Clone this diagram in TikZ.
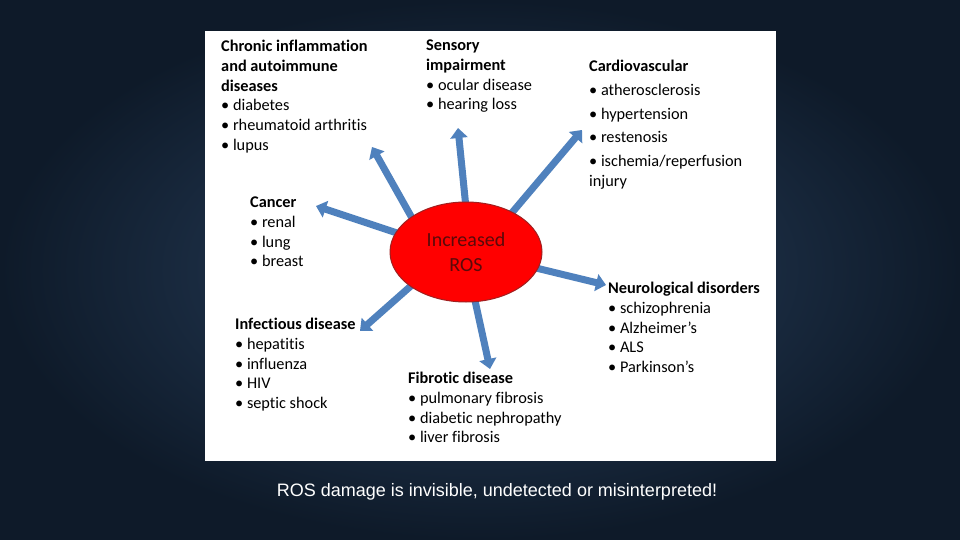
\documentclass[tikz,border=0pt]{standalone}
\usepackage{fontspec}
\setmainfont[Ligatures={NoCommon}]{Carlito}
\newfontfamily\capfont{Liberation Sans}
\usetikzlibrary{arrows.meta,shapes.geometric}
\definecolor{bgin}{HTML}{2A4260}
\definecolor{bgout}{HTML}{0E1A29}
\definecolor{arrblue}{HTML}{4F81BD}
\definecolor{rosred}{HTML}{FF0000}
\definecolor{rosedge}{HTML}{A02020}
\definecolor{rostext}{HTML}{5A0A0A}
\begin{document}
\begin{tikzpicture}[x=1pt,y=-1pt,
  txt/.style={anchor=north west,align=left,inner sep=0pt,font=\fontsize{16.3}{19.7}\selectfont},
  ray/.style={line width=7pt,draw=arrblue,-{Triangle[width=17pt,length=10pt]}}]
\useasboundingbox (0,0) rectangle (960,540);
\shade[inner color=bgin,outer color=bgout] (0,0) rectangle (960,540);
\fill[white] (205,31) rectangle (776,461);
\coordinate (sA) at (412,218);
\coordinate (sB) at (466,208);
\coordinate (sC) at (510,215);
\coordinate (sD) at (400,234);
\coordinate (sE) at (536,268);
\coordinate (sF) at (412,285);
\coordinate (sG) at (474,296);
\coordinate (tA) at (372,147);
\coordinate (tB) at (458,128);
\coordinate (tC) at (582,130);
\coordinate (tD) at (316,206);
\coordinate (tE) at (606,285);
\coordinate (tF) at (360,331);
\coordinate (tG) at (490,369);
\draw[ray] (sA) -- (tA);
\draw[ray] (sB) -- (tB);
\draw[ray] (sC) -- (tC);
\draw[ray] (sD) -- (tD);
\draw[ray] (sE) -- (tE);
\draw[ray] (sF) -- (tF);
\draw[ray] (sG) -- (tG);
\node[ellipse,draw=rosedge,line width=1pt,fill=rosred,minimum width=152pt,minimum height=100pt,
  align=center,text=rostext,font=\fontsize{20}{25}\selectfont] (ros) at (466,252) {Increased\\ROS};
\node[txt] (n1) at (221,40) {\textbf{Chronic inflammation}\\\textbf{and autoimmune}\\\textbf{diseases}\\• diabetes\\• rheumatoid arthritis\\• lupus};
\node[txt] (n2) at (426,40) {\textbf{Sensory}\\\textbf{impairment}\\• ocular disease\\• hearing loss};
\node[txt] (n3) at (589,60) {\textbf{Cardiovascular}\\[4pt]• atherosclerosis\\[4pt]• hypertension\\[4pt]• restenosis\\[4pt]• ischemia/reperfusion\\injury};
\node[txt] (n4) at (250,197) {\textbf{Cancer}\\• renal\\• lung\\• breast};
\node[txt] (n5) at (608,282) {\textbf{Neurological disorders}\\• schizophrenia\\• Alzheimer’s\\• ALS\\• Parkinson’s};
\node[txt] (n6) at (235,318) {\textbf{Infectious disease}\\• hepatitis\\• influenza\\• HIV\\• septic shock};
\node[txt] (n7) at (408,372) {\textbf{Fibrotic disease}\\• pulmonary fibrosis\\• diabetic nephropathy\\• liver fibrosis};
\node[white,font=\capfont\fontsize{18}{21}\selectfont] (cap) at (497,492) {ROS damage is invisible, undetected or misinterpreted!};
\end{tikzpicture}
\end{document}
